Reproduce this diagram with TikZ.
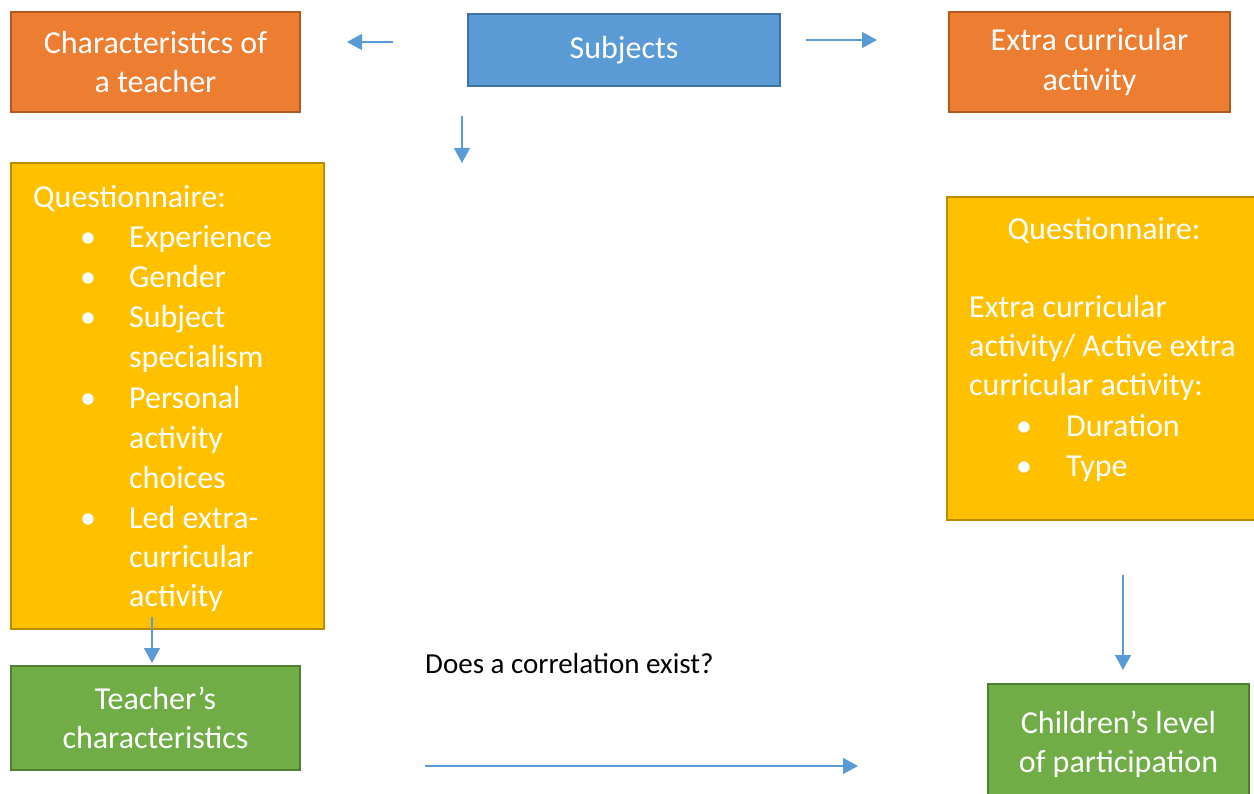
\documentclass[tikz,border=0pt]{standalone}
\usepackage{fontspec}
\setmainfont{Carlito}
\usetikzlibrary{arrows.meta}
\definecolor{orfill}{HTML}{ED7D31}
\definecolor{ordraw}{HTML}{AE5A21}
\definecolor{blfill}{HTML}{5B9BD5}
\definecolor{bldraw}{HTML}{41719C}
\definecolor{yefill}{HTML}{FFC000}
\definecolor{yedraw}{HTML}{BC8C00}
\definecolor{grfill}{HTML}{70AD47}
\definecolor{grdraw}{HTML}{507E32}
\definecolor{arrowblue}{HTML}{5B9BD5}
\begin{document}
\begin{tikzpicture}[x=1pt,y=-1pt,
  box/.style={draw, line width=2.2pt, inner sep=0pt, outer sep=0pt, rectangle,
    text=white, align=center, font=\fontsize{32}{39.5}\selectfont},
  orbox/.style={box, fill=orfill, draw=ordraw},
  blbox/.style={box, fill=blfill, draw=bldraw},
  yebox/.style={box, fill=yefill, draw=yedraw},
  grbox/.style={box, fill=grfill, draw=grdraw},
  lbl/.style={anchor=base west, inner sep=0pt, text=white, font=\fontsize{32}{39.5}\selectfont},
  clbl/.style={anchor=base, inner sep=0pt, text=white, font=\fontsize{32}{39.5}\selectfont},
  arr/.style={draw=arrowblue, line width=1.4pt, -{Triangle[width=16pt,length=15pt]}}]
\useasboundingbox (0,0) rectangle (1254,794);
\clip (0,0) rectangle (1254,794);

% boxes
\node[orbox, minimum width=289pt, minimum height=100pt] (char) at (155.5,62) {Characteristics of\\a teacher};
\node[blbox, minimum width=312pt, minimum height=72pt] (subj) at (624,50) {Subjects};
\node[orbox, minimum width=281pt, minimum height=100pt] (extra) at (1089.5,62) {Extra curricular\\activity};
\node[yebox, minimum width=313pt, minimum height=466pt] (lq) at (167.5,396) {};
\node[yebox, minimum width=315pt, minimum height=323pt] (rq) at (1104.5,358.5) {};
\node[grbox, minimum width=289pt, minimum height=104pt] (teach) at (155.5,718) {Teacher’s\\characteristics};
\node[grbox, minimum width=261pt, minimum height=126pt, text depth=0pt] (child) at (1118.5,747) {};
\node[clbl] (child1) at (1118.5,733) {Children’s level};
\node[clbl] (child2) at (1118.5,772) {of participation};

% left questionnaire
\node[lbl] (lq0) at (33,208) {Questionnaire:};
\node[clbl] (lb1) at (88,248) {•};
\node[lbl] (lq1) at (129,248) {Experience};
\node[clbl] (lb2) at (88,288) {•};
\node[lbl] (lq2) at (129,288) {Gender};
\node[clbl] (lb3) at (88,328) {•};
\node[lbl] (lq3) at (129,328) {Subject};
\node[lbl] (lq4) at (129,368) {specialism};
\node[clbl] (lb4) at (88,409) {•};
\node[lbl] (lq5) at (129,409) {Personal};
\node[lbl] (lq6) at (129,449) {activity};
\node[lbl] (lq7) at (129,488) {choices};
\node[clbl] (lb5) at (88,528) {•};
\node[lbl] (lq8) at (129,528) {Led extra-};
\node[lbl] (lq9) at (129,567) {curricular};
\node[lbl] (lq10) at (129,606) {activity};

% right questionnaire
\node[clbl] (rq0) at (1104,240) {Questionnaire:};
\node[lbl] (rq1) at (969,318) {Extra curricular};
\node[lbl] (rq2) at (969,357) {activity/ Active extra};
\node[lbl] (rq3) at (969,396) {curricular activity:};
\node[clbl] (rb1) at (1024,436) {•};
\node[lbl] (rq4) at (1066,436) {Duration};
\node[clbl] (rb2) at (1024,476) {•};
\node[lbl] (rq5) at (1066,476) {Type};

% question text
\node[anchor=base west, inner sep=0pt, text=black, font=\fontsize{29}{35}\selectfont] (corr) at (425,673) {Does a correlation exist?};

% arrow end points
\coordinate (a1s) at (393,42);
\coordinate (a1e) at (347,42);
\coordinate (a2s) at (806,40);
\coordinate (a2e) at (877,40);
\coordinate (a3s) at (462,116);
\coordinate (a3e) at (462,163);
\coordinate (a4s) at (152,617);
\coordinate (a4e) at (152,663);
\coordinate (a5s) at (1123,575);
\coordinate (a5e) at (1123,670);
\coordinate (a6s) at (425,766);
\coordinate (a6e) at (858,766);

\draw[arr] (a1s) -- (a1e);
\draw[arr] (a2s) -- (a2e);
\draw[arr] (a3s) -- (a3e);
\draw[arr] (a4s) -- (a4e);
\draw[arr] (a5s) -- (a5e);
\draw[arr] (a6s) -- (a6e);
\end{tikzpicture}
\end{document}
